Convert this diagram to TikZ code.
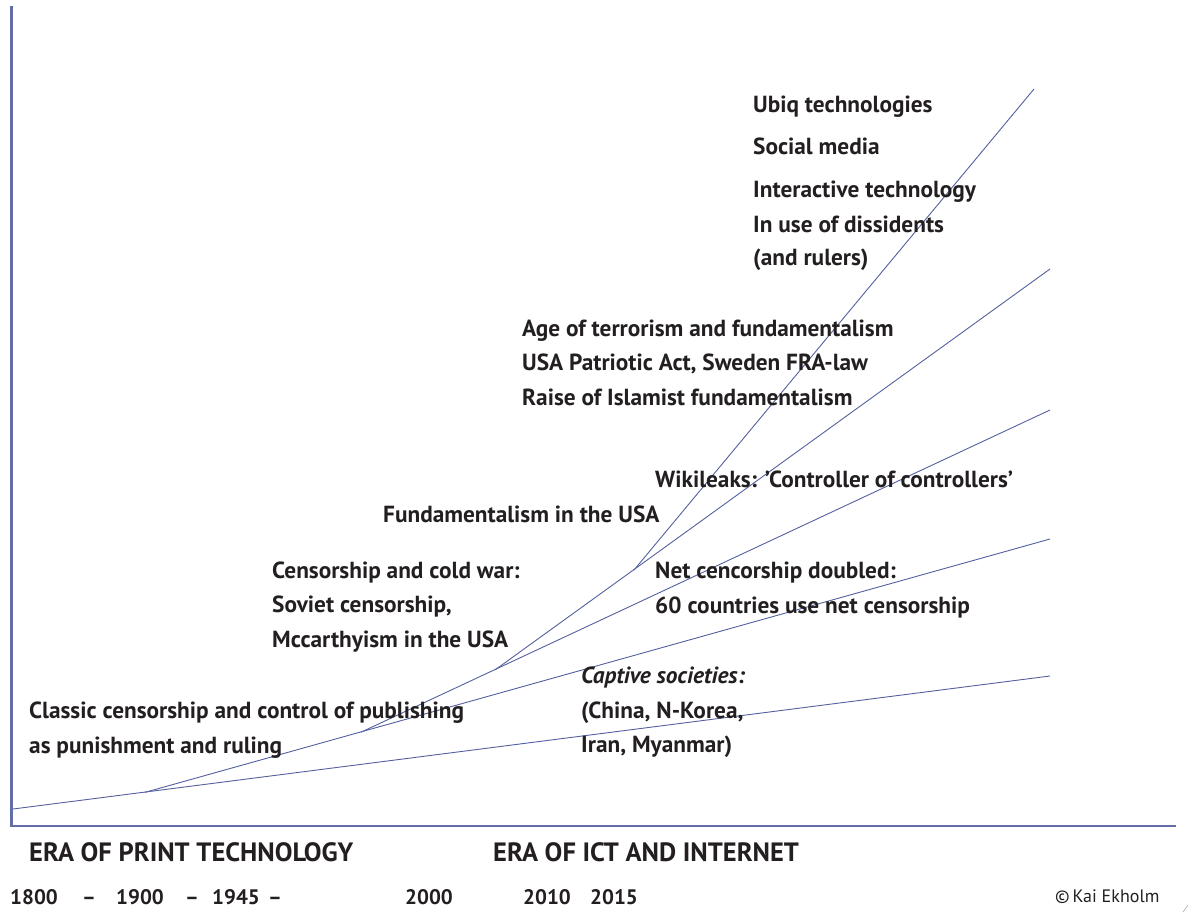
\documentclass[tikz,border=0pt]{standalone}
\usepackage{fontspec}
\setmainfont{PT Sans}
\usetikzlibrary{calc}
\definecolor{ink}{RGB}{35,31,32}
\definecolor{chartline}{RGB}{84,95,158}
\definecolor{axisline}{RGB}{98,110,166}

\begin{document}
\begin{tikzpicture}[x=1pt,y=-1pt,
	lbl/.style={anchor=base west,inner sep=0pt,text=ink,font=\fontsize{23.3}{28}\selectfont\bfseries},
	yr/.style={lbl,font=\fontsize{21}{25}\selectfont\bfseries},
	era/.style={lbl,font=\fontsize{26.5}{31}\selectfont\bfseries},
	trend/.style={chartline,line width=0.9pt},
	branch/.style={trend,shorten <=-2pt}]
	\useasboundingbox (0,0) rectangle (1188,912);
	% axes
	\draw[axisline,line width=2.6pt] (11.5,6) -- (11.5,826) -- (1176,826);
	% trend lines, each one branching off the one below
	\coordinate (o) at (13,809);
	\coordinate (endA) at (1050,676);
	\coordinate (endB) at (1050,539);
	\coordinate (endC) at (1050,410);
	\coordinate (endD) at (1050,269);
	\coordinate (endE) at (1034,89);
	\coordinate (b1) at ($(o)!0.129!(endA)$);
	\coordinate (b2) at ($(b1)!0.239!(endB)$);
	\coordinate (b3) at ($(b2)!0.195!(endC)$);
	\coordinate (b4) at ($(b3)!0.25!(endD)$);
	\draw[trend] (o) -- (endA);
	\draw[branch] (b1) -- (endB);
	\draw[branch] (b2) -- (endC);
	\draw[branch] (b3) -- (endD);
	\draw[branch] (b4) -- (endE);
	% events
	\foreach \y/\txt [count=\i] in {113/Ubiq technologies,155/Social media,198/Interactive technology,232/In use of dissidents,265/(and rulers)}
		\node[lbl] (ubiq\i) at (753,\y) {\txt};
	\foreach \y/\txt [count=\i] in {336/Age of terrorism and fundamentalism,370/{USA Patriotic Act, Sweden FRA-law},405/Raise of Islamist fundamentalism}
		\node[lbl] (terror\i) at (522,\y) {\txt};
	\node[lbl] (wiki) at (655,487) {Wikileaks: ’Controller of controllers’};
	\node[lbl] (fund) at (383,522) {Fundamentalism in the USA};
	\foreach \y/\txt [count=\i] in {578/Censorship and cold war:,612/{Soviet censorship,},647/Mccarthyism in the USA}
		\node[lbl] (cold\i) at (272,\y) {\txt};
	\foreach \y/\txt [count=\i] in {578/Net cencorship doubled:,613/60 countries use net censorship}
		\node[lbl] (net\i) at (655,\y) {\txt};
	\node[lbl,font=\fontsize{23.3}{28}\selectfont\bfseries\itshape] (captive1) at (581,683) {Captive societies:};
	\node[lbl] (captive2) at (581,718) {(China, N-Korea,};
	\node[lbl] (captive3) at (581,752) {Iran, Myanmar)};
	\node[lbl] (classic1) at (29,718) {Classic censorship and control of publishing};
	\node[lbl] (classic2) at (29,753) {as punishment and ruling};
	% eras and years
	\node[era] (print) at (29,861) {ERA OF PRINT TECHNOLOGY};
	\node[era] (ict) at (493,861) {ERA OF ICT AND INTERNET};
	\foreach \x/\yr [count=\i] in {10/1800,82/–,116/1900,185/–,212/1945,268/–,405/2000,523/2010,590/2015}
		\node[yr] (year\i) at (\x,904) {\yr};
	\node[anchor=base west,inner sep=0pt,text=ink,font=\fontsize{18}{21}\selectfont] (copy) at (1055,902) {\textcopyright\,Kai Ekholm};
	\draw[gray!70,line width=0.6pt] (1183,912) .. controls (1185,908) .. (1188,905);
\end{tikzpicture}
\end{document}
